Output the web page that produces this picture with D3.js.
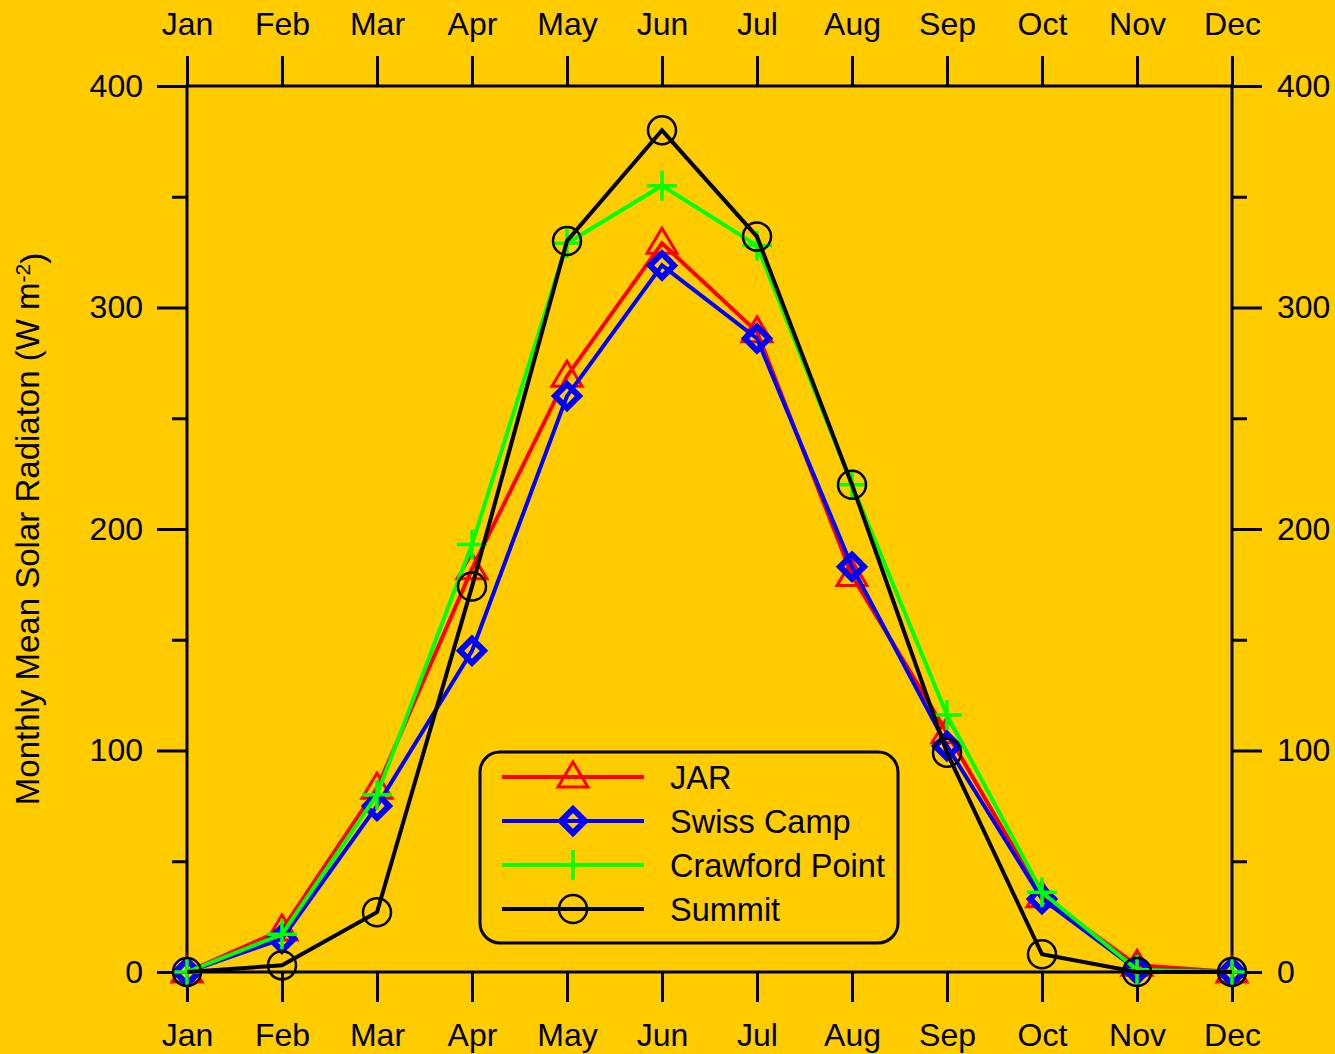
<!DOCTYPE html>
<html>
<head>
<meta charset="utf-8">
<script src="https://cdn.jsdelivr.net/npm/d3@7"></script>
<style>
  body { margin: 0; background: #ffcc00; }
  svg { display: block; font-family: "Liberation Sans", Arial, sans-serif; }
</style>
</head>
<body>
<svg id="chart" width="1335" height="1054"></svg>
<script>
const months = ["Jan","Feb","Mar","Apr","May","Jun","Jul","Aug","Sep","Oct","Nov","Dec"];
const jar      = [0, 19, 83, 182, 269, 329, 289, 179, 108, 34, 3, 0];
const swiss    = [0, 15, 75, 145, 260, 319, 286, 183, 102, 33, 1, 0];
const crawford = [0, 17, 80, 193, 329, 355, 328, 220, 116, 36, 1, 0];
const summit   = [0, 3, 27, 174, 330, 380, 332, 220, 99, 8, 0, 0];
const yTicks = [0, 100, 200, 300, 400];
const yMinor = [50, 150, 250, 350];

const series = [
  { name: "JAR", values: jar, color: "#ff0000", marker: "triangle" },
  { name: "Swiss Camp", values: swiss, color: "#0000ff", marker: "diamond" },
  { name: "Crawford Point", values: crawford, color: "#00ff00", marker: "plus" },
  { name: "Summit", values: summit, color: "#000000", marker: "circle" }
];

const svg = d3.select("#chart");
const plotL = 187, plotR = 1232, plotT = 86, plotB = 972;

const x = d3.scalePoint().domain(months).range([plotL, plotR]);
const y = d3.scaleLinear().domain([0, 400]).range([plotB, plotT]);

svg.append("rect").attr("width", 1335).attr("height", 1054).attr("fill", "#ffcc00");

// axes
const styleAxis = g => {
  g.selectAll(".domain").remove();
  g.selectAll("line").attr("stroke", "#000").attr("stroke-width", 3);
  g.selectAll("text").attr("fill", "#000").style("font-size", "32px");
};

svg.append("g").attr("transform", `translate(0,${plotT})`)
  .call(d3.axisTop(x).tickSize(30).tickPadding(21)).call(styleAxis);
svg.append("g").attr("transform", `translate(0,${plotB})`)
  .call(d3.axisBottom(x).tickSize(30).tickPadding(21)).call(styleAxis);
svg.append("g").attr("transform", `translate(${plotL},0)`)
  .call(d3.axisLeft(y).tickValues(yTicks).tickSize(30).tickPadding(14)).call(styleAxis);
svg.append("g").attr("transform", `translate(${plotR},0)`)
  .call(d3.axisRight(y).tickValues(yTicks).tickSize(30).tickPadding(15)).call(styleAxis);
svg.append("g").attr("transform", `translate(${plotL},0)`)
  .call(d3.axisLeft(y).tickValues(yMinor).tickSize(15).tickFormat("")).call(styleAxis);
svg.append("g").attr("transform", `translate(${plotR},0)`)
  .call(d3.axisRight(y).tickValues(yMinor).tickSize(15).tickFormat("")).call(styleAxis);

svg.append("rect")
  .attr("x", plotL).attr("y", plotT)
  .attr("width", plotR - plotL).attr("height", plotB - plotT)
  .attr("fill", "none").attr("stroke", "#000").attr("stroke-width", 3);

// y title
const title = svg.append("text")
  .attr("transform", `translate(39,${(plotT + plotB) / 2}) rotate(-90)`)
  .attr("text-anchor", "middle")
  .style("font-size", "33px");
title.append("tspan").text("Monthly Mean Solar Radiaton (W m");
title.append("tspan").attr("dy", "-0.45em").style("font-size", "21px").text("-2");
title.append("tspan").attr("dy", "0.45em").text(")");

// markers
const drawMarker = (g, type, color, cx, cy) => {
  if (type === "triangle") {
    g.append("path")
      .attr("d", `M${cx},${cy - 15}L${cx + 15},${cy + 10}L${cx - 15},${cy + 10}Z`)
      .attr("fill", "none").attr("stroke", color).attr("stroke-width", 3);
  } else if (type === "diamond") {
    g.append("path")
      .attr("d", `M${cx},${cy - 12}L${cx + 12},${cy}L${cx},${cy + 12}L${cx - 12},${cy}Z`)
      .attr("fill", "none").attr("stroke", color).attr("stroke-width", 6);
  } else if (type === "plus") {
    g.append("path")
      .attr("d", `M${cx - 15},${cy}H${cx + 15}M${cx},${cy - 15}V${cy + 15}`)
      .attr("fill", "none").attr("stroke", color).attr("stroke-width", 3.5);
  } else {
    g.append("circle").attr("cx", cx).attr("cy", cy).attr("r", 14)
      .attr("fill", "none").attr("stroke", color).attr("stroke-width", 2.5);
  }
};

const line = d3.line().x((d, i) => x(months[i])).y(d => y(d));

series.forEach(s => {
  const g = svg.append("g");
  g.append("path")
    .attr("d", line(s.values))
    .attr("fill", "none").attr("stroke", s.color)
    .attr("stroke-width", 4).attr("stroke-linejoin", "miter");
  s.values.forEach((v, i) => drawMarker(g, s.marker, s.color, x(months[i]), y(v)));
});

// legend
const legend = svg.append("g");
legend.append("rect")
  .attr("x", 480).attr("y", 752).attr("width", 418).attr("height", 191)
  .attr("rx", 20).attr("fill", "none").attr("stroke", "#000").attr("stroke-width", 3);

series.forEach((s, i) => {
  const ly = 777 + i * 44;
  const g = legend.append("g");
  g.append("line").attr("x1", 502).attr("x2", 644).attr("y1", ly).attr("y2", ly)
    .attr("stroke", s.color).attr("stroke-width", 4);
  drawMarker(g, s.marker, s.color, 573, ly);
  g.append("text").attr("x", 670).attr("y", ly).attr("dy", "0.36em")
    .style("font-size", "32.5px").text(s.name);
});
</script>
</body>
</html>
